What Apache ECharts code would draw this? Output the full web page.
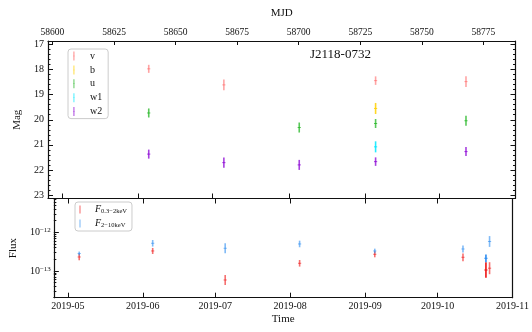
<!DOCTYPE html>
<html>
<head>
<meta charset="utf-8">
<script src="https://cdn.jsdelivr.net/npm/echarts@6/dist/echarts.min.js"></script>
<style>
  html, body { margin: 0; padding: 0; background: #fff; }
  #chart { width: 532px; height: 332px; }
</style>
</head>
<body>
<div id="chart"></div>
<script>
// UVOT photometry (MJD, magnitude, 1-sigma error)
const uvotMjd = [58639.1, 58669.6, 58700.2, 58731.2, 58767.9];
const vMag  = [17.97, 18.61, null, 18.44, 18.48];
const vErr  = [0.16, 0.21, null, 0.17, 0.21];
const bMag  = [null, null, null, 19.55, null];
const bErr  = [null, null, null, 0.22, null];
const uMag  = [19.73, null, 20.31, 20.15, 20.04];
const uErr  = [0.18, null, 0.2, 0.18, 0.2];
const w1Mag = [null, null, null, 21.08, null];
const w1Err = [null, null, null, 0.22, null];
const w2Mag = [21.37, 21.71, 21.80, 21.67, 21.27];
const w2Err = [0.18, 0.2, 0.2, 0.17, 0.18];

// XRT fluxes (erg/cm2/s), errors in dex
const xrtMjd     = [58608.7, 58639.1, 58669.1, 58699.9, 58731.0, 58767.5, 58777.0, 58778.5];
const softFlux   = [2.30e-13, 3.29e-13, 5.85e-14, 1.58e-13, 2.70e-13, 2.26e-13, 1.06e-13, 1.18e-13];
const softErrDex = [0.085, 0.078, 0.13, 0.085, 0.078, 0.1, 0.2, 0.155];
const hardFlux   = [2.83e-13, 5.2e-13, 3.86e-13, 4.99e-13, 3.29e-13, 3.70e-13, 2.13e-13, 5.78e-13];
const hardErrDex = [0.05, 0.085, 0.13, 0.085, 0.06, 0.09, 0.1, 0.14];

// axis ticks
const mjdTicks   = [58600, 58625, 58650, 58675, 58700, 58725, 58750, 58775];
const monthMjd   = [58604, 58635, 58665, 58696, 58727, 58757, 58788];
const monthLabel = ['2019-05', '2019-06', '2019-07', '2019-08', '2019-09', '2019-10', '2019-11'];
const magTicks   = [17, 18, 19, 20, 21, 22, 23];
const fluxTicks  = [1e-13, 1e-12];

const FONT = 'Liberation Serif';
const X_MIN = 58598.2, X_MAX = 58788;
const SOLID_IDX = 6;

const magMinor = [];
for (let m = 17; m < 23; m++) for (let k = 1; k < 5; k++) magMinor.push(+(m + k * 0.2).toFixed(1));
const fluxMinor = [];
[-14, -13, -12].forEach(e => { for (let k = 2; k < 10; k++) fluxMinor.push(k * Math.pow(10, e)); });

const bands = [
  { name: 'v',  mag: vMag,  err: vErr,  color: '#ff5a5a', op: 0.55 },
  { name: 'b',  mag: bMag,  err: bErr,  color: '#ffd000', op: 0.85 },
  { name: 'u',  mag: uMag,  err: uErr,  color: '#22b522', op: 0.75 },
  { name: 'w1', mag: w1Mag, err: w1Err, color: '#00e8ff', op: 0.85 },
  { name: 'w2', mag: w2Mag, err: w2Err, color: '#8a00d4', op: 0.75 }
];

const legendIcon = 'path://M0,0M22,20M10.2,0H11.8V20H10.2Z M9.6,9.4H12.4V10.6H9.6Z';
const legendIcon2 = 'path://M0,0M20,20M9.2,0H10.8V20H9.2Z';

function barRender(opacity, solidIdx) {
  return function (params, api) {
    const x = api.value(0);
    const c = api.coord([x, api.value(1)]);
    const lo = api.coord([x, api.value(2)]);
    const hi = api.coord([x, api.value(3)]);
    const op = params.dataIndex === solidIdx ? 1 : opacity;
    const style = { stroke: api.visual('color'), lineWidth: 1.6, opacity: op };
    return {
      type: 'group',
      children: [
        { type: 'line', shape: { x1: c[0], y1: lo[1], x2: c[0], y2: hi[1] }, style: style },
        { type: 'line', shape: { x1: c[0] - 1.6, y1: c[1], x2: c[0] + 1.6, y2: c[1] }, style: Object.assign({}, style, { lineWidth: 1 }) }
      ]
    };
  };
}

const series = bands.map(b => ({
  name: b.name,
  type: 'custom',
  xAxisIndex: 0,
  yAxisIndex: 0,
  itemStyle: { color: b.color },
  renderItem: barRender(b.op, -1),
  data: uvotMjd.map((t, i) => [t, b.mag[i], b.mag[i] - b.err[i], b.mag[i] + b.err[i]]).filter((d, i) => b.mag[i] != null)
}));

function fluxRows(flux, errDex) {
  return xrtMjd.map((t, i) => [t, flux[i], flux[i] / Math.pow(10, errDex[i]), flux[i] * Math.pow(10, errDex[i])]);
}
series.push({
  name: 'soft', type: 'custom', xAxisIndex: 2, yAxisIndex: 4,
  itemStyle: { color: '#ee1111' },
  renderItem: barRender(0.6, SOLID_IDX),
  data: fluxRows(softFlux, softErrDex)
});
series.push({
  name: 'hard', type: 'custom', xAxisIndex: 2, yAxisIndex: 4,
  itemStyle: { color: '#2b8cf0' },
  renderItem: barRender(0.6, SOLID_IDX),
  data: fluxRows(hardFlux, hardErrDex)
});

const tickBase = { show: true, inside: true, lineStyle: { color: '#111', width: 1 } };
const lineBase = { show: true, onZero: false, lineStyle: { color: '#111', width: 1.2 } };
const noLabel = { show: false };

function monthAxis(grid, pos, labels) {
  return {
    type: 'value', gridIndex: grid, position: pos, min: X_MIN, max: X_MAX,
    splitLine: { show: false }, axisLine: lineBase,
    axisTick: Object.assign({}, tickBase, { length: 5, customValues: monthMjd }),
    axisLabel: labels ? {
      show: true, customValues: monthMjd, margin: 4, fontSize: 10, color: '#111', fontFamily: FONT,
      formatter: v => monthLabel[monthMjd.indexOf(v)]
    } : noLabel
  };
}

const fluxLabel = v => '{b|10}{e|\u2212' + Math.abs(Math.round(Math.log10(v))) + '}';

const option = {
  animation: false,
  backgroundColor: '#fff',
  textStyle: { fontFamily: FONT, color: '#111' },
  title: {
    text: 'J2118-0732', left: 305, top: 43,
    textStyle: { fontFamily: FONT, fontSize: 13, fontWeight: 'normal', color: '#111' }
  },
  grid: [
    { left: 48, right: 16.5, top: 41, height: 157.5 },
    { left: 48, right: 16.5, top: 198.5, height: 99.2 }
  ],
  legend: [
    {
      orient: 'vertical', left: 68, top: 49,
      data: bands.map(b => b.name),
      icon: legendIcon, itemWidth: 22, itemHeight: 9, itemGap: 3.9,
      padding: [2, 6, 2, 1], borderColor: '#ccc', borderWidth: 1, borderRadius: 3,
      textStyle: { fontFamily: FONT, fontSize: 10, color: '#111' }
    },
    {
      orient: 'vertical', left: 75, top: 202,
      data: ['soft', 'hard'],
      icon: legendIcon2, itemWidth: 20, itemHeight: 8, itemGap: 3,
      padding: [2, 5, 2, 1], borderColor: '#ccc', borderWidth: 1, borderRadius: 3,
      formatter: n => n === 'soft' ? '{i|F}{s|0.3\u22122keV}' : '{i|F}{s|2\u221210keV}',
      textStyle: {
        fontFamily: FONT, color: '#111',
        rich: {
          i: { fontFamily: FONT, fontSize: 10, fontStyle: 'italic', lineHeight: 11, verticalAlign: 'top' },
          s: { fontFamily: FONT, fontSize: 6.5, lineHeight: 7, padding: [4, 0, 0, 0], verticalAlign: 'bottom' }
        }
      }
    }
  ],
  xAxis: [
    {
      type: 'value', gridIndex: 0, position: 'top', min: X_MIN, max: X_MAX,
      name: 'MJD', nameLocation: 'middle', nameGap: 22,
      nameTextStyle: { fontFamily: FONT, fontSize: 11, color: '#111' },
      splitLine: { show: false }, axisLine: lineBase,
      axisTick: Object.assign({}, tickBase, { length: 4, customValues: mjdTicks }),
      axisLabel: {
        show: true, customValues: mjdTicks, margin: 4, fontSize: 9.5, color: '#111', fontFamily: FONT,
        formatter: v => String(v)
      }
    },
    monthAxis(0, 'bottom', false),
    Object.assign(monthAxis(1, 'bottom', true), {
      name: 'Time', nameLocation: 'middle', nameGap: 16,
      nameTextStyle: { fontFamily: FONT, fontSize: 11, color: '#111' }
    }),
    monthAxis(1, 'top', false)
  ],
  yAxis: [
    {
      type: 'value', gridIndex: 0, position: 'left', inverse: true, min: 16.86, max: 23.14,
      name: 'Mag', nameLocation: 'middle', nameGap: 16, nameRotate: 90,
      nameTextStyle: { fontFamily: FONT, fontSize: 11, color: '#111' },
      splitLine: { show: false }, axisLine: lineBase,
      axisTick: Object.assign({}, tickBase, { length: 5, customValues: magTicks }),
      axisLabel: { show: true, customValues: magTicks, margin: 4, fontSize: 10, color: '#111', fontFamily: FONT }
    },
    {
      type: 'value', gridIndex: 0, position: 'left', inverse: true, min: 16.86, max: 23.14,
      splitLine: { show: false }, axisLine: { show: false }, axisLabel: noLabel,
      axisTick: Object.assign({}, tickBase, { length: 2.5, customValues: magMinor })
    },
    {
      type: 'value', gridIndex: 0, position: 'right', inverse: true, min: 16.86, max: 23.14,
      splitLine: { show: false }, axisLine: lineBase, axisLabel: noLabel,
      axisTick: Object.assign({}, tickBase, { length: 5, customValues: magTicks })
    },
    {
      type: 'value', gridIndex: 0, position: 'right', inverse: true, min: 16.86, max: 23.14,
      splitLine: { show: false }, axisLine: { show: false }, axisLabel: noLabel,
      axisTick: Object.assign({}, tickBase, { length: 2.5, customValues: magMinor })
    },
    {
      type: 'log', logBase: 10, gridIndex: 1, position: 'left', min: 2.04e-14, max: 7.46e-12,
      name: 'Flux', nameLocation: 'middle', nameGap: 28, nameRotate: 90,
      nameTextStyle: { fontFamily: FONT, fontSize: 11, color: '#111' },
      splitLine: { show: false }, axisLine: lineBase,
      axisTick: Object.assign({}, tickBase, { length: 5, customValues: fluxTicks }),
      axisLabel: {
        show: true, customValues: fluxTicks, margin: 3, color: '#111', fontFamily: FONT,
        formatter: fluxLabel,
        rich: {
          b: { fontFamily: FONT, fontSize: 10, lineHeight: 11, padding: [3, 0, 0, 0], verticalAlign: 'bottom' },
          e: { fontFamily: FONT, fontSize: 7, lineHeight: 8, verticalAlign: 'top' }
        }
      }
    },
    {
      type: 'log', logBase: 10, gridIndex: 1, position: 'left', min: 2.04e-14, max: 7.46e-12,
      splitLine: { show: false }, axisLine: { show: false }, axisLabel: noLabel,
      axisTick: Object.assign({}, tickBase, { length: 2.5, customValues: fluxMinor })
    },
    {
      type: 'value', gridIndex: 1, position: 'right', min: 0, max: 1,
      splitLine: { show: false }, axisLine: lineBase, axisLabel: noLabel, axisTick: { show: false }
    }
  ],
  series: series
};

const chart = echarts.init(document.getElementById('chart'), null, { renderer: 'canvas' });
chart.setOption(option);
</script>
</body>
</html>
